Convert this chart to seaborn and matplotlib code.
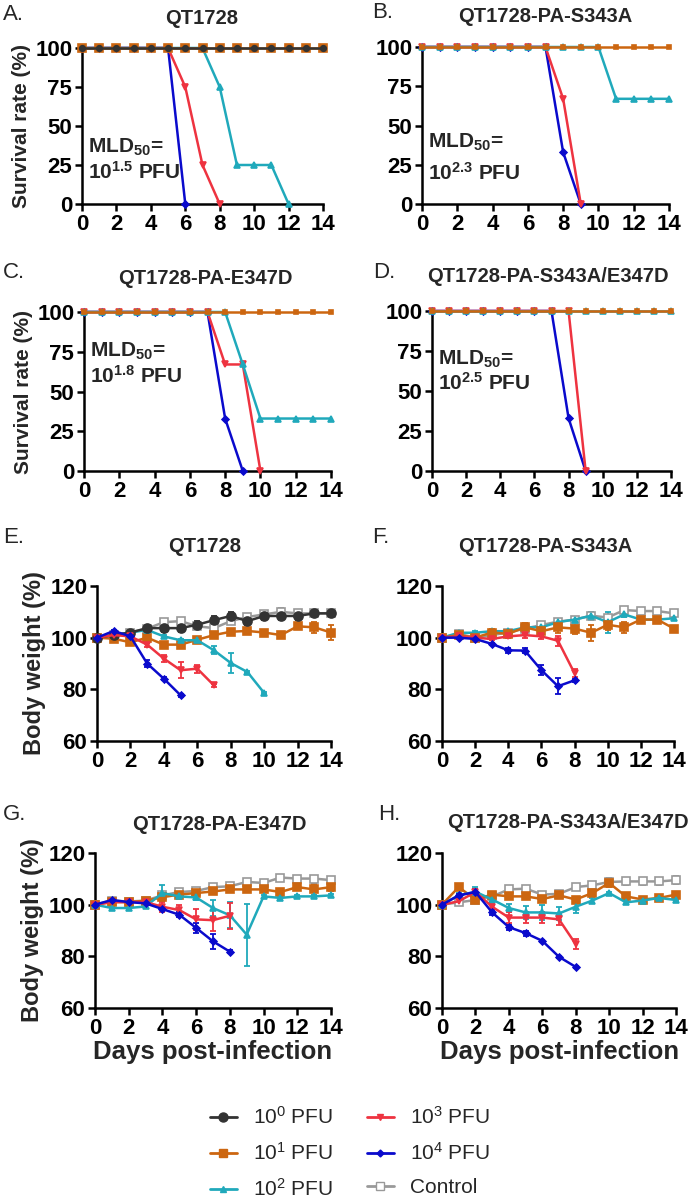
import matplotlib
matplotlib.use('Agg')
import matplotlib.pyplot as plt
from matplotlib.lines import Line2D
import seaborn as sns

sns.set_style('ticks')
plt.rcParams['font.family'] = ['Liberation Sans', 'DejaVu Sans']
plt.rcParams['font.weight'] = 'bold'
plt.rcParams['axes.labelweight'] = 'bold'
plt.rcParams['mathtext.fontset'] = 'custom'
plt.rcParams['mathtext.rm'] = 'Liberation Sans'
plt.rcParams['mathtext.default'] = 'regular'

# --- 데이터: 생존율 (%) ---
A_1e0 = [100, 100, 100, 100, 100, 100, 100, 100, 100, 100, 100, 100, 100, 100, 100]
A_1e1 = [100, 100, 100, 100, 100, 100, 100, 100, 100, 100, 100, 100, 100, 100, 100]
A_1e2 = [100, 100, 100, 100, 100, 100, 100, 100, 75, 25, 25, 25, 0]
A_1e3 = [100, 100, 100, 100, 100, 100, 75, 25, 0]
A_1e4 = [100, 100, 100, 100, 100, 100, 0]

B_1e1 = [100, 100, 100, 100, 100, 100, 100, 100, 100, 100, 100, 100, 100, 100, 100]
B_1e2 = [100, 100, 100, 100, 100, 100, 100, 100, 100, 100, 100, 67, 67, 67, 67]
B_1e3 = [100, 100, 100, 100, 100, 100, 100, 100, 67, 0]
B_1e4 = [100, 100, 100, 100, 100, 100, 100, 100, 33, 0]

C_1e1 = [100, 100, 100, 100, 100, 100, 100, 100, 100, 100, 100, 100, 100, 100, 100]
C_1e2 = [100, 100, 100, 100, 100, 100, 100, 100, 100, 67, 33, 33, 33, 33, 33]
C_1e3 = [100, 100, 100, 100, 100, 100, 100, 100, 67, 67, 0]
C_1e4 = [100, 100, 100, 100, 100, 100, 100, 100, 33, 0]

D_1e1 = [100, 100, 100, 100, 100, 100, 100, 100, 100, 100, 100, 100, 100, 100, 100]
D_1e2 = [100, 100, 100, 100, 100, 100, 100, 100, 100, 100, 100, 100, 100, 100, 100]
D_1e3 = [100, 100, 100, 100, 100, 100, 100, 100, 100, 0]
D_1e4 = [100, 100, 100, 100, 100, 100, 100, 100, 33, 0]

mld_labels = ['10$^{1.5}$ PFU', '10$^{2.3}$ PFU', '10$^{1.8}$ PFU', '10$^{2.5}$ PFU']

# --- 데이터: 체중 (%) 평균 / 오차 ---
E_ctrl = [100, 101, 102, 103.5, 106, 106.4, 104.4, 103.7, 106.4, 108, 109, 110, 109.4, 109.4, 109.5]
E_ctrl_err = [0, 0.5, 0.5, 0.5, 1, 1, 1, 1, 1, 1, 1, 1.5, 1, 1, 1]
E_1e0 = [100, 101, 102, 103.7, 103.7, 103.7, 105, 106.8, 108.4, 106.4, 108.4, 108.4, 108.4, 109.4, 109.4]
E_1e0_err = [0, 0.5, 1, 1, 1.5, 1.5, 1.5, 1.5, 1.5, 1.5, 1.5, 1.5, 1.5, 1.5, 1.5]
E_1e1 = [100, 99.6, 98.2, 100, 97.3, 97.3, 99.2, 101, 102.3, 102.6, 102, 101, 104.4, 104, 102]
E_1e1_err = [0, 0.5, 0.5, 1, 1, 1, 1, 0.5, 0.5, 0.5, 0.5, 0.5, 1, 2, 3]
E_1e2 = [100, 101, 102, 103, 100.5, 99, 99, 95.1, 90.2, 86.7, 78.6]
E_1e2_err = [0, 0.5, 0.5, 0.5, 0.5, 0.5, 0.5, 1.5, 4, 0.5, 0.5]
E_1e3 = [100, 101, 100.5, 97.3, 91.9, 87.4, 88, 81.5]
E_1e3_err = [0, 0.5, 0.5, 1, 1.5, 3, 1.5, 0.5]
E_1e4 = [100, 102.6, 100.5, 90, 84.1, 77.7]
E_1e4_err = [0, 0.5, 0.5, 1.5, 0.5, 0.5]

F_ctrl = [100, 101.5, 100, 101, 102, 103.5, 104.9, 106.2, 107, 108.5, 107.8, 110.7, 110.3, 110.3, 109.4]
F_ctrl_err = [0, 0.5, 0.5, 0.5, 0.5, 0.5, 0.5, 0.5, 0.5, 0.5, 0.5, 1, 0.5, 0.5, 1]
F_1e1 = [100, 101, 100, 102, 101.5, 104, 102.5, 104, 103.5, 101.9, 105, 104, 107, 107, 103.5]
F_1e1_err = [0, 0.5, 0.5, 1.5, 1.5, 1.5, 2, 2, 2, 3, 2, 2, 1, 1, 1]
F_1e2 = [100, 101.9, 101.9, 102.5, 102.5, 104, 104, 106, 107, 108.5, 106, 109, 107, 107, 107.5]
F_1e2_err = [0, 0.5, 0.5, 0.5, 0.5, 0.5, 0.5, 1, 1, 1.5, 4, 1, 0.5, 0.5, 0.5]
F_1e3 = [100, 100.5, 100, 99.5, 100.5, 101, 100.5, 98.8, 86.2]
F_1e3_err = [0, 0.5, 0.5, 0.5, 0.5, 1, 1, 2, 1.5]
F_1e4 = [100, 100, 99.5, 97.6, 95.1, 95, 87.4, 81.2, 83.5]
F_1e4_err = [0, 0.5, 0.5, 0.5, 1, 1, 2, 3, 0.5]

G_ctrl = [100, 101.6, 101.2, 101.6, 103.6, 104.9, 105.3, 106.8, 107.1, 108.8, 108.4, 110.5, 110.1, 110.1, 109.5]
G_ctrl_err = [0, 0.5, 0.5, 0.5, 0.5, 0.5, 0.5, 0.5, 0.5, 0.5, 0.5, 1, 0.5, 0.5, 1]
G_1e1 = [100, 101, 101, 101.5, 102.9, 103.9, 104.5, 105.1, 105.9, 105.9, 105.9, 104.9, 106.8, 105.9, 106.8]
G_1e1_err = [0, 0.5, 0.5, 0.5, 1, 0.5, 0.5, 0.5, 1, 1, 1, 0.5, 1, 2, 1.5]
G_1e2 = [100, 98.7, 98.7, 99.3, 104.5, 103.2, 102.8, 98.7, 95.9, 88.4, 103.2, 102.6, 103.2, 103.2, 103.6]
G_1e2_err = [0, 0.5, 0.5, 0.5, 3, 1, 1, 3, 5, 12, 0.5, 0.5, 0.5, 0.5, 0.5]
G_1e3 = [100, 101, 101, 101, 99.2, 97.9, 94.3, 94, 95.7]
G_1e3_err = [0, 0.5, 0.5, 0.5, 2, 2, 4, 4, 5]
G_1e4 = [100, 101.8, 101, 100.5, 98.3, 96.1, 91, 85.8, 81.8]
G_1e4_err = [0, 0.5, 0.5, 0.5, 0.5, 1, 2, 3, 0.5]

H_ctrl = [100, 100.9, 101.8, 103.2, 105.9, 106.2, 103.9, 104.2, 106.8, 107.5, 108.8, 109, 109, 109, 109.5]
H_ctrl_err = [0, 0.5, 0.5, 0.5, 1, 1, 1, 0.5, 1, 1, 1.5, 1.5, 1.5, 1.5, 1.5]
H_1e1 = [100, 106.8, 102, 103.9, 103.2, 103.2, 102.2, 103.6, 102, 104.5, 108.4, 103.2, 102, 102.6, 103.9]
H_1e1_err = [0, 1, 1, 1, 0.5, 0.5, 0.5, 0.5, 0.5, 0.5, 1.5, 0.5, 0.5, 0.5, 0.5]
H_1e2 = [100, 103.6, 105, 102, 98.7, 97, 97, 96.6, 99.2, 101.6, 104.5, 100.9, 101.6, 102.6, 101.8]
H_1e2_err = [0, 1, 2, 2, 1.5, 2.5, 3, 2.5, 2.5, 1, 0.5, 0.5, 0.5, 0.5, 0.5]
H_1e3 = [100, 101.3, 104.9, 99.2, 95, 95, 95, 94.3, 84.7]
H_1e3_err = [0, 0.5, 1, 1, 2, 2, 2, 2, 2]
H_1e4 = [100, 103.6, 104.9, 97, 91.3, 89, 86, 79.8, 75.9]
H_1e4_err = [0, 0.5, 1, 1, 1, 1, 0.5, 0.5, 0.5]

panel_titles = ['QT1728', 'QT1728-PA-S343A', 'QT1728-PA-E347D', 'QT1728-PA-S343A/E347D']
legend_labels = ['10$^0$ PFU', '10$^1$ PFU', '10$^2$ PFU', '10$^3$ PFU', '10$^4$ PFU', 'Control']

# --- 스타일 ---
sty = {
    '1e0': dict(color='#333333', marker='o', ms=6.5, mfc='#333333'),
    '1e1': dict(color='#CC6610', marker='s', ms=6, mfc='#CC6610'),
    '1e2': dict(color='#20A9BB', marker='^', ms=5, mfc='#20A9BB'),
    '1e3': dict(color='#EE3340', marker='v', ms=5, mfc='#EE3340'),
    '1e4': dict(color='#0A0ACC', marker='D', ms=3.5, mfc='#0A0ACC'),
    'ctrl': dict(color='#999999', marker='s', ms=6, mfc='white'),
}

W, H = 700, 1200
fig = plt.figure(figsize=(7, 12), dpi=100)


def add_ax(l, t, r, b):
    return fig.add_axes([l / W, 1 - b / H, (r - l) / W, (b - t) / H])


def draw(ax, key, y, err=None, ms=None):
    s = sty[key]
    x = list(range(len(y)))
    sns.lineplot(x=x, y=y, ax=ax, color=s['color'], marker=s['marker'],
                 markersize=ms or s['ms'], markerfacecolor=s['mfc'],
                 markeredgecolor=s['color'], markeredgewidth=1.2,
                 linewidth=1.8, clip_on=False, zorder=3)
    if err is not None:
        ax.errorbar(x, y, yerr=err, fmt='none', ecolor=s['color'],
                    elinewidth=1.3, capsize=2.5, capthick=1.3, zorder=2, clip_on=False)


def style_ax(ax, ylim, yticks):
    ax.set_xlim(0, 14)
    ax.set_ylim(*ylim)
    ax.set_xticks(range(0, 15, 2))
    ax.set_yticks(yticks)
    sns.despine(ax=ax)
    for sp in ['left', 'bottom']:
        ax.spines[sp].set_linewidth(1.8)
        ax.spines[sp].set_color('black')
    ax.tick_params(width=1.8, length=5, labelsize=16, colors='black', pad=2)
    ax.set_xlabel('')
    ax.set_ylabel('')


# --- 생존율 패널 A-D ---
surv_boxes = [(82, 48, 323, 204), (422, 47, 669, 204), (84, 312, 331, 471), (432, 311, 671, 471)]
surv_data = [
    [('1e4', A_1e4), ('1e3', A_1e3), ('1e2', A_1e2), ('1e1', A_1e1), ('1e0', A_1e0)],
    [('1e4', B_1e4), ('1e3', B_1e3), ('1e2', B_1e2), ('1e1', B_1e1)],
    [('1e4', C_1e4), ('1e3', C_1e3), ('1e2', C_1e2), ('1e1', C_1e1)],
    [('1e4', D_1e4), ('1e3', D_1e3), ('1e2', D_1e2), ('1e1', D_1e1)],
]
mld_y = [(36.5, 20.5), (39, 20), (75, 60), (70, 55)]
surv_axes = []
for i, box in enumerate(surv_boxes):
    ax = add_ax(*box)
    for key, y in surv_data[i]:
        if key == '1e0':
            draw(ax, key, y, ms=4)
        elif key == '1e1' and i > 0:
            draw(ax, key, y, ms=3)
        else:
            draw(ax, key, y)
    style_ax(ax, (0, 100), [0, 25, 50, 75, 100])
    ax.text(0.35, mld_y[i][0], 'MLD$_{50}$=', fontsize=15, va='center')
    ax.text(0.35, mld_y[i][1], mld_labels[i], fontsize=15, va='center')
    surv_axes.append(ax)

for ax in (surv_axes[0], surv_axes[2]):
    ax.set_ylabel('Survival rate (%)', fontsize=15, labelpad=3)

# --- 체중 패널 E-H ---
bw_boxes = [(97, 586, 331, 741), (442, 586, 674, 741), (95, 853, 331, 1008), (442, 853, 676, 1008)]
bw_data = [
    [('ctrl', E_ctrl, E_ctrl_err), ('1e1', E_1e1, E_1e1_err), ('1e2', E_1e2, E_1e2_err),
     ('1e0', E_1e0, E_1e0_err), ('1e3', E_1e3, E_1e3_err), ('1e4', E_1e4, E_1e4_err)],
    [('ctrl', F_ctrl, F_ctrl_err), ('1e2', F_1e2, F_1e2_err), ('1e1', F_1e1, F_1e1_err),
     ('1e3', F_1e3, F_1e3_err), ('1e4', F_1e4, F_1e4_err)],
    [('ctrl', G_ctrl, G_ctrl_err), ('1e1', G_1e1, G_1e1_err), ('1e2', G_1e2, G_1e2_err),
     ('1e3', G_1e3, G_1e3_err), ('1e4', G_1e4, G_1e4_err)],
    [('ctrl', H_ctrl, H_ctrl_err), ('1e1', H_1e1, H_1e1_err), ('1e2', H_1e2, H_1e2_err),
     ('1e3', H_1e3, H_1e3_err), ('1e4', H_1e4, H_1e4_err)],
]
bw_axes = []
for i, box in enumerate(bw_boxes):
    ax = add_ax(*box)
    for key, y, e in bw_data[i]:
        draw(ax, key, y, e)
    style_ax(ax, (60, 120), [60, 80, 100, 120])
    bw_axes.append(ax)

for ax in (bw_axes[0], bw_axes[2]):
    ax.set_ylabel('Body weight (%)', fontsize=17, labelpad=3)

# --- 제목, 패널 문자, x축 제목 ---
title_pos = [(202, 18), (545, 17), (205, 278), (548, 277),
             (205, 546), (545, 546), (219, 825), (568, 823)]
letter_pos = [(3, 15), (372, 13), (3, 272), (373, 272),
              (3, 538), (372, 538), (3, 815), (378, 815)]
letters = ['A.', 'B.', 'C.', 'D.', 'E.', 'F.', 'G.', 'H.']
for k in range(8):
    tx, ty = title_pos[k]
    fig.text(tx / W, 1 - ty / H, panel_titles[k % 4], fontsize=14.5, ha='center', va='center')
    lx, ly = letter_pos[k]
    fig.text(lx / W, 1 - ly / H, letters[k], fontsize=16, fontweight='normal', ha='left', va='center')

fig.text(213 / W, 1 - 1052 / H, 'Days post-infection', fontsize=18.5, ha='center', va='center')
fig.text(560 / W, 1 - 1052 / H, 'Days post-infection', fontsize=18.5, ha='center', va='center')

# --- 범례 ---
keys = ['1e0', '1e1', '1e2', '1e3', '1e4', 'ctrl']
handles = []
for key, lab in zip(keys, legend_labels):
    s = sty[key]
    handles.append(Line2D([0], [0], color=s['color'], marker=s['marker'], markersize=s['ms'],
                          markerfacecolor=s['mfc'], markeredgecolor=s['color'],
                          linewidth=2, label=lab))
fig.legend(handles=handles, ncol=2, loc='center', bbox_to_anchor=(0.5, 1 - 1153 / H),
           frameon=False, prop=dict(size=15, weight='normal'), labelspacing=0.68,
           handlelength=1.3, handletextpad=0.8, columnspacing=1.6)

fig.savefig('out.png', dpi=100)
